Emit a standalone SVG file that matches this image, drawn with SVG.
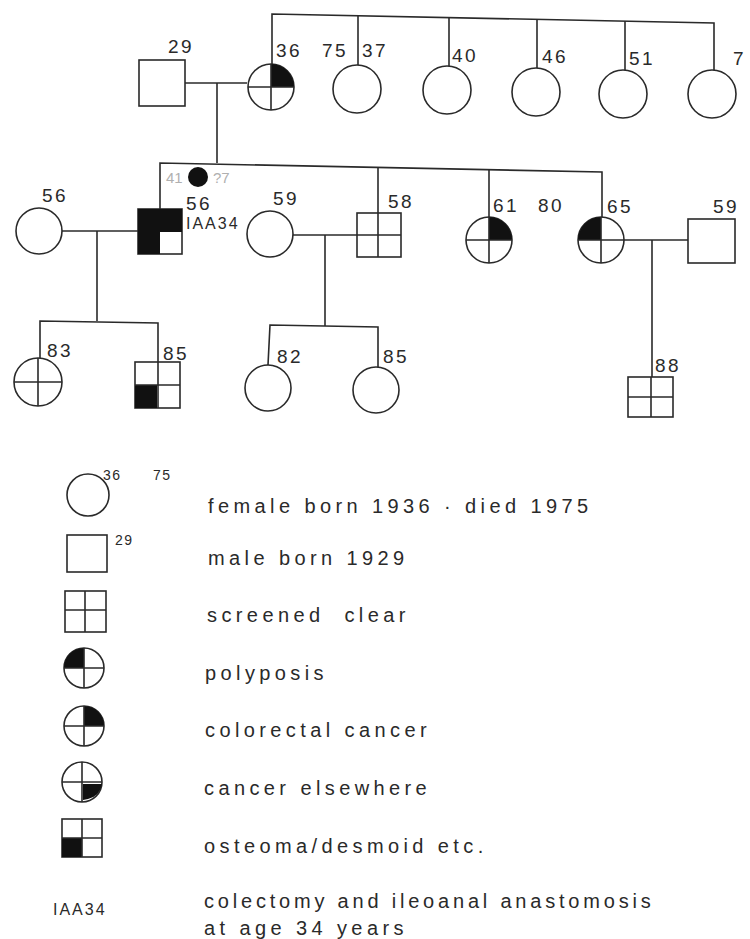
<svg xmlns="http://www.w3.org/2000/svg" width="750" height="939" viewBox="0 0 750 939">
<style>
.ln{fill:none;stroke:#2a2a2a;stroke-width:1.6}
.sh{fill:#fff;stroke:#2a2a2a;stroke-width:1.6}
.bk{fill:#111;stroke:none}
.lb{font-family:"Liberation Sans",Arial,sans-serif;font-size:19px;fill:#2a2a2a;letter-spacing:2.5px}
.sm{font-family:"Liberation Sans",Arial,sans-serif;font-size:14px;fill:#2a2a2a;letter-spacing:1.5px}
.ia{font-family:"Liberation Sans",Arial,sans-serif;font-size:16px;fill:#2a2a2a;letter-spacing:2px}
.lg{font-family:"Liberation Sans",Arial,sans-serif;font-size:20px;fill:#2a2a2a;letter-spacing:4.4px}
.fd{font-family:"Liberation Sans",Arial,sans-serif;font-size:15px;fill:#b0b0b0}
</style>
<rect width="750" height="939" fill="#fff"/>
<g id="connectors">
<polyline class="ln" points="272,64 272,14 714,23 714,70"/>
<line class="ln" x1="358" y1="16" x2="358" y2="65"/>
<line class="ln" x1="449" y1="18" x2="449" y2="66"/>
<line class="ln" x1="537" y1="19" x2="537" y2="68"/>
<line class="ln" x1="625" y1="21" x2="625" y2="70"/>
<line class="ln" x1="185" y1="83" x2="247" y2="83"/>
<line class="ln" x1="217" y1="83" x2="217" y2="163"/>
<polyline class="ln" points="160,209 160,163 602,172 602,217"/>
<line class="ln" x1="378" y1="167" x2="378" y2="257"/>
<line class="ln" x1="489" y1="169" x2="489" y2="217"/>
<line class="ln" x1="62" y1="231" x2="138" y2="231"/>
<line class="ln" x1="97" y1="231" x2="97" y2="321"/>
<polyline class="ln" points="40,358 40,321 158,323 158,362"/>
<line class="ln" x1="293" y1="235" x2="357" y2="235"/>
<line class="ln" x1="325" y1="235" x2="325" y2="326"/>
<polyline class="ln" points="268,365 270,325 378,327 378,367"/>
<line class="ln" x1="623" y1="240" x2="688" y2="240"/>
<line class="ln" x1="652" y1="240" x2="652" y2="377"/>
</g>
<g id="m29"><rect class="sh" x="139" y="60" width="46" height="46"/><text class="lb" x="168" y="53">29</text></g>
<g id="f36"><circle class="sh" cx="271" cy="87" r="23"/><path class="bk" d="M271,87 L271,64 A23,23 0 0 1 294,87 Z"/><path class="ln" d="M248,87 H294 M271,64 V110"/><text class="lb" x="276" y="57">36</text><text class="lb" x="322" y="57">75</text></g>
<g id="f37"><circle class="sh" cx="357" cy="89" r="24"/><text class="lb" x="362" y="57">37</text></g>
<g id="f40"><circle class="sh" cx="447" cy="90" r="24"/><text class="lb" x="452" y="62">40</text></g>
<g id="f46"><circle class="sh" cx="536" cy="92" r="24"/><text class="lb" x="542" y="63">46</text></g>
<g id="f51"><circle class="sh" cx="623" cy="94" r="24"/><text class="lb" x="629" y="65">51</text></g>
<g id="f7"><circle class="sh" cx="712" cy="94" r="24"/><text class="lb" x="733" y="65">7</text></g>
<g id="infant"><circle class="bk" cx="198" cy="177" r="10"/><text class="fd" x="166" y="183">41</text><text class="fd" x="213" y="183">?7</text></g>
<g id="f56"><circle class="sh" cx="39" cy="231" r="23"/><text class="lb" x="42" y="202">56</text></g>
<g id="m56"><rect class="sh" x="138" y="209" width="44" height="45"/><path class="bk" d="M138,209 H182 V232 H160 V254 H138 Z"/><text class="lb" x="186" y="210">56</text><text class="ia" x="186" y="229">IAA34</text></g>
<g id="f59"><circle class="sh" cx="270" cy="234" r="23"/><text class="lb" x="273" y="205">59</text></g>
<g id="m58"><rect class="sh" x="357" y="213" width="44" height="44"/><path class="ln" d="M357,235 H401 M378,213 V257"/><text class="lb" x="388" y="208">58</text></g>
<g id="f61"><circle class="sh" cx="489" cy="240" r="23"/><path class="bk" d="M489,240 L489,217 A23,23 0 0 1 512,240 Z"/><path class="ln" d="M466,240 H512 M489,217 V263"/><text class="lb" x="493" y="212">61</text><text class="lb" x="538" y="212">80</text></g>
<g id="f65"><circle class="sh" cx="601" cy="240" r="23"/><path class="bk" d="M601,240 L578,240 A23,23 0 0 1 601,217 Z"/><path class="ln" d="M578,240 H624 M601,217 V263"/><text class="lb" x="607" y="213">65</text></g>
<g id="m59"><rect class="sh" x="688" y="219" width="47" height="44"/><text class="lb" x="713" y="213">59</text></g>
<g id="f83"><circle class="sh" cx="38" cy="382" r="24"/><path class="ln" d="M14,382 H62 M38,358 V406"/><text class="lb" x="47" y="357">83</text></g>
<g id="m85"><rect class="sh" x="135" y="362" width="45" height="46"/><rect class="bk" x="135" y="385" width="22" height="23"/><path class="ln" d="M135,385 H180 M158,362 V408"/><text class="lb" x="163" y="360">85</text></g>
<g id="f82"><circle class="sh" cx="268" cy="388" r="23"/><text class="lb" x="277" y="363">82</text></g>
<g id="f85"><circle class="sh" cx="376" cy="390" r="23"/><text class="lb" x="383" y="363">85</text></g>
<g id="m88"><rect class="sh" x="628" y="377" width="45" height="40"/><path class="ln" d="M628,397 H673 M651,377 V417"/><text class="lb" x="655" y="372">88</text></g>
<g id="legend">
<circle class="sh" cx="88" cy="495" r="21"/><text class="sm" x="103" y="480">36</text><text class="sm" x="153" y="480">75</text>
<text class="lg" x="208" y="513" xml:space="preserve">female born 1936 · died 1975</text>
<rect class="sh" x="67" y="535" width="40" height="37"/><text class="sm" x="115" y="545">29</text>
<text class="lg" x="208" y="565">male born 1929</text>
<rect class="sh" x="65" y="591" width="41" height="41"/><path class="ln" d="M65,610 H106 M85,591 V632"/>
<text class="lg" x="207" y="622" xml:space="preserve">screened  clear</text>
<circle class="sh" cx="84" cy="668" r="20"/><path class="bk" d="M84,668 L64,668 A20,20 0 0 1 84,648 Z"/><path class="ln" d="M64,668 H104 M84,648 V688"/>
<text class="lg" x="205" y="680">polyposis</text>
<circle class="sh" cx="84" cy="726" r="20"/><path class="bk" d="M84,726 L84,706 A20,20 0 0 1 104,726 Z"/><path class="ln" d="M64,726 H104 M84,706 V746"/>
<text class="lg" x="205" y="737">colorectal  cancer</text>
<circle class="sh" cx="82" cy="782" r="20"/><path class="bk" d="M83,784 L102,784 Q100,796 88,799 L83,800 Z"/><path class="ln" d="M62,782 H102 M82,762 V802"/>
<text class="lg" x="204" y="795">cancer  elsewhere</text>
<rect class="sh" x="62" y="819" width="40" height="38"/><rect class="bk" x="62" y="838" width="20" height="19"/><path class="ln" d="M62,838 H102 M82,819 V857"/>
<text class="lg" x="204" y="853">osteoma/desmoid etc.</text>
<text class="ia" x="53" y="915">IAA34</text>
<text class="lg" x="204" y="908" style="letter-spacing:3.8px">colectomy and ileoanal anastomosis</text>
<text class="lg" x="204" y="935">at age 34 years</text>
</g>
</svg>
